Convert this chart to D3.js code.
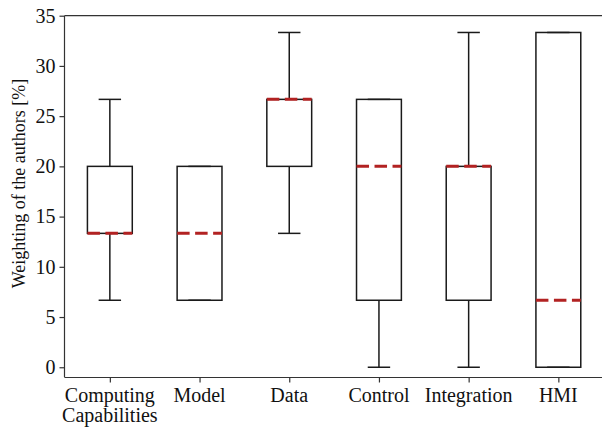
<!DOCTYPE html>
<html><head><meta charset="utf-8">
<script src="https://cdn.jsdelivr.net/npm/d3@7"></script>
<style>body{margin:0;background:#fff}svg{display:block}</style>
</head><body>
<svg id="c" width="602" height="427"></svg>
<script>
const categories = [["Computing","Capabilities"],["Model"],["Data"],["Control"],["Integration"],["HMI"]];
const whiskerLow  = [6.67, 6.67, 13.33, 0, 0, 0];
const q1          = [13.33, 6.67, 20, 6.67, 6.67, 0];
const median      = [13.33, 13.33, 26.67, 20, 20, 6.67];
const q3          = [20, 20, 26.67, 26.67, 20, 33.33];
const whiskerHigh = [26.67, 20, 33.33, 26.67, 33.33, 33.33];
const yTicks = [0, 5, 10, 15, 20, 25, 30, 35];
const yLabel = "Weighting of the authors [%]";

const svg = d3.select("#c");
const font = "'Liberation Serif','Times New Roman',serif";
const x = d3.scaleLinear().domain([0.5, 6.5]).range([65, 603.2]);
const y = d3.scaleLinear().domain([-1, 35]).range([377.3, 15.7]);
const ink = "#1a1a1a";

// spines
svg.append("line").attr("x1",64.5).attr("x2",64.5).attr("y1",y(35)).attr("y2",y(-1)).attr("stroke","#333").attr("stroke-width",1.2);
svg.append("line").attr("x1",64.5).attr("x2",602).attr("y1",Math.round(y(-1))+0.5).attr("y2",Math.round(y(-1))+0.5).attr("stroke","#333").attr("stroke-width",1.2);
svg.append("line").attr("x1",64.5).attr("x2",602).attr("y1",y(35)).attr("y2",y(35)).attr("stroke","#333").attr("stroke-width",1.2);

// y axis
const yAxis = d3.axisLeft(y).tickValues(yTicks).tickSize(5).tickPadding(4).tickFormat(d3.format("d"));
const gy = svg.append("g").attr("transform","translate(64.5,0)").call(yAxis);
gy.select(".domain").remove();
gy.selectAll(".tick line").attr("stroke","#333").attr("stroke-width",1.2);
gy.selectAll(".tick text").attr("font-family",font).attr("font-size",20).attr("fill","#111");

// x axis
const idx = categories.map((d,i)=>i+1);
const xAxis = d3.axisBottom(x).tickValues(idx).tickSize(5).tickFormat("");
const gx = svg.append("g").attr("transform",`translate(0,${Math.round(y(-1))+0.5})`).call(xAxis);
gx.select(".domain").remove();
gx.selectAll(".tick line").attr("stroke","#333").attr("stroke-width",1.2);
categories.forEach((lines,i)=>{
  const t = svg.append("text").attr("x",x(i+1)).attr("y",401.5).attr("text-anchor","middle")
    .attr("font-family",font).attr("font-size",20).attr("fill","#111");
  lines.forEach((l,j)=>t.append("tspan").attr("x",x(i+1)).attr("dy",j?20:0).text(l));
});

// y label
svg.append("text").attr("transform",`translate(24.5,${183.5}) rotate(-90)`).attr("text-anchor","middle")
  .attr("font-family",font).attr("font-size",18).attr("fill","#111").text(yLabel);

// boxes
const bw = 0.25, cw = 0.125;
const g = svg.append("g");
idx.forEach((p,i)=>{
  const b = g.append("g");
  b.append("line").attr("x1",x(p)).attr("x2",x(p)).attr("y1",y(q3[i])).attr("y2",y(whiskerHigh[i])).attr("stroke",ink).attr("stroke-width",1.5);
  b.append("line").attr("x1",x(p)).attr("x2",x(p)).attr("y1",y(q1[i])).attr("y2",y(whiskerLow[i])).attr("stroke",ink).attr("stroke-width",1.5);
  [whiskerLow[i], whiskerHigh[i]].forEach(v=>{
    b.append("line").attr("x1",x(p-cw)).attr("x2",x(p+cw)).attr("y1",y(v)).attr("y2",y(v)).attr("stroke",ink).attr("stroke-width",1.5);
  });
  b.append("rect").attr("x",x(p-bw)).attr("width",x(p+bw)-x(p-bw))
    .attr("y",y(q3[i])).attr("height",y(q1[i])-y(q3[i]))
    .attr("fill","none").attr("stroke",ink).attr("stroke-width",1.5);
  b.append("line").attr("x1",x(p-bw)).attr("x2",x(p+bw)).attr("y1",y(median[i])).attr("y2",y(median[i]))
    .attr("stroke","#b22222").attr("stroke-width",3).attr("stroke-dasharray","12.5,5.5");
});
</script>
</body></html>
